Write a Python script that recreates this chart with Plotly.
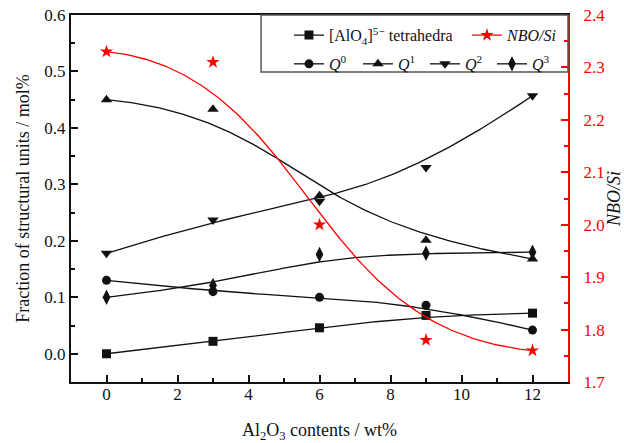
import numpy as np
import plotly.graph_objects as go

# Al2O3 content of the slags (wt%)
al2o3 = [0, 3, 6, 9, 12]

# Fractions of structural units (mol%)
alo4 = [0.0, 0.022, 0.046, 0.068, 0.072]
q0 = [0.13, 0.11, 0.10, 0.086, 0.042]
q1 = [0.45, 0.433, 0.28, 0.201, 0.168]
q2 = [0.178, 0.237, 0.27, 0.33, 0.457]
q3 = [0.10, 0.121, 0.176, 0.178, 0.18]

# Non-bridging oxygen per silicon
nbo_si = [2.33, 2.31, 2.0, 1.78, 1.76]

FONT = "Liberation Serif"
BLACK = "#111111"
RED = "#ff0000"


def bspline(xs, ys, n=200, p=3):
    """Clamped uniform cubic B-spline using the data points as control points."""
    P = np.column_stack([xs, ys]).astype(float)
    k = len(P)
    kn = np.concatenate([np.zeros(p), np.arange(0, k - p + 1), np.full(p, k - p)]).astype(float)
    u = np.linspace(0, k - p, n)
    u[-1] -= 1e-9
    N = np.array([((kn[i] <= u) & (u < kn[i + 1])).astype(float) for i in range(len(kn) - 1)])
    for d in range(1, p + 1):
        rows = []
        for i in range(len(kn) - 1 - d):
            a = kn[i + d] - kn[i]
            b = kn[i + d + 1] - kn[i + 1]
            t = np.zeros_like(u)
            if a > 0:
                t = t + (u - kn[i]) / a * N[i]
            if b > 0:
                t = t + (kn[i + d + 1] - u) / b * N[i + 1]
            rows.append(t)
        N = np.array(rows)
    C = N.T @ P
    return C[:, 0], C[:, 1]


series = [
    ("[AlO<sub>4</sub>]<sup>5\u2212</sup> tetrahedra", alo4, "square", 9),
    ("<i>Q</i><sup>0</sup>", q0, "circle", 9),
    ("<i>Q</i><sup>1</sup>", q1, "triangle-up", 10),
    ("<i>Q</i><sup>2</sup>", q2, "triangle-down", 10),
    ("<i>Q</i><sup>3</sup>", q3, "diamond-tall", 11),
]

fig = go.Figure()

for name, vals, sym, size in series:
    cx, cy = bspline(al2o3, vals)
    fig.add_trace(go.Scatter(x=cx, y=cy, mode="lines", line=dict(color=BLACK, width=1.3),
                             showlegend=False, hoverinfo="skip"))
    fig.add_trace(go.Scatter(x=al2o3, y=vals, mode="markers",
                             marker=dict(symbol=sym, size=size, color=BLACK),
                             showlegend=False, name=name))

cx, cy = bspline(al2o3, nbo_si)
fig.add_trace(go.Scatter(x=cx, y=cy, mode="lines", line=dict(color=RED, width=1.3),
                         yaxis="y2", showlegend=False, hoverinfo="skip"))
fig.add_trace(go.Scatter(x=al2o3, y=nbo_si, mode="markers", yaxis="y2",
                         marker=dict(symbol="star", size=10, color=RED),
                         showlegend=False, name="NBO/Si"))

# legend entries (line + marker symbol): first row, then second row
legend_items = [
    (series[0][0], "square", 9, BLACK, "legend", 133),
    ("<i>NBO/Si</i>", "star", 10, RED, "legend", 52),
    (series[1][0], series[1][2], series[1][3], BLACK, "legend2", 24),
    (series[2][0], series[2][2], series[2][3], BLACK, "legend2", 22),
    (series[3][0], series[3][2], series[3][3], BLACK, "legend2", 22),
    (series[4][0], series[4][2], series[4][3], BLACK, "legend2", 18),
]
for name, sym, size, col, leg, w in legend_items:
    fig.add_trace(go.Scatter(x=[None], y=[None], mode="lines+markers", name=name,
                             line=dict(color=col, width=1.3),
                             marker=dict(symbol=sym, size=size, color=col),
                             legend=leg, legendwidth=w))

axis_common = dict(
    showgrid=False, zeroline=False, showline=True, linewidth=2, automargin=False,
    ticks="inside", ticklen=7, tickwidth=1.5,
    tickfont=dict(family=FONT, size=17),
)

fig.update_layout(
    width=624, height=443,
    margin=dict(l=71, r=56, t=15, b=61),
    paper_bgcolor="white", plot_bgcolor="white",
    font=dict(family=FONT, size=17, color=BLACK),
    xaxis=dict(
        range=[-1, 13], tick0=0, dtick=2, linecolor=BLACK, tickcolor=BLACK,
        mirror=True,
        minor=dict(dtick=1, tick0=0, ticks="inside", ticklen=4, tickcolor=BLACK, tickwidth=1.5),
        title=dict(text="Al<sub>2</sub>O<sub>3</sub> contents / wt%",
                   font=dict(family=FONT, size=18), standoff=30),
        ticklabelstandoff=-4,
        **axis_common,
    ),
    yaxis=dict(
        range=[-0.05, 0.6], tick0=0, dtick=0.1, tickformat=".1f",
        linecolor=BLACK, tickcolor=BLACK,
        minor=dict(dtick=0.05, tick0=0, ticks="inside", ticklen=4, tickcolor=BLACK, tickwidth=1.5),
        title=dict(text="Fraction of structural units / mol%",
                   font=dict(family=FONT, size=18), standoff=10),
        ticklabelstandoff=0,
        **axis_common,
    ),
    yaxis2=dict(
        range=[1.7, 2.4], tick0=1.7, dtick=0.1, tickformat=".1f",
        overlaying="y", side="right", anchor="x",
        linecolor=RED, tickcolor=RED, color=RED,
        minor=dict(dtick=0.05, tick0=1.7, ticks="inside", ticklen=4, tickcolor=RED, tickwidth=1.5),
        title=dict(text="<i>NBO/Si</i>", font=dict(family=FONT, size=18, color=BLACK), standoff=10),
        ticklabelstandoff=10,
        **{**axis_common, "tickfont": dict(family=FONT, size=17, color=RED)},
    ),
    legend=dict(
        orientation="h", x=0.4386, y=0.9914, xanchor="left", yanchor="top",
        bgcolor="rgba(0,0,0,0)", borderwidth=0, entrywidthmode="pixels",
        font=dict(family=FONT, size=16, color=BLACK), tracegroupgap=0,
    ),
    legend2=dict(
        orientation="h", x=0.4386, y=0.913, xanchor="left", yanchor="top",
        bgcolor="rgba(0,0,0,0)", borderwidth=0, entrywidthmode="pixels",
        font=dict(family=FONT, size=16, color=BLACK), tracegroupgap=0,
    ),
    shapes=[dict(type="rect", xref="paper", yref="paper", x0=0.3824, x1=1, y0=0.845, y1=1,
                 line=dict(color="#555555", width=1.5), fillcolor="rgba(0,0,0,0)")],
)

fig.write_html("out.html")
